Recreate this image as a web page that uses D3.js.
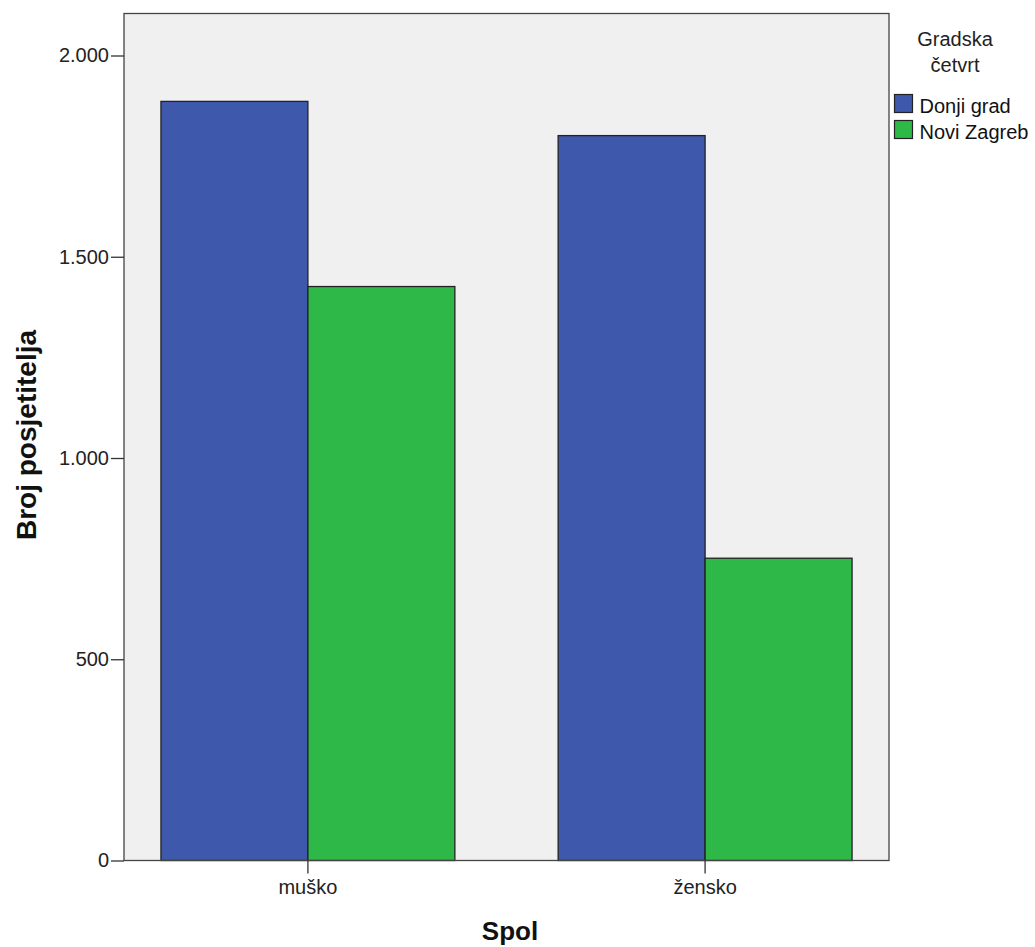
<!DOCTYPE html>
<html>
<head>
<meta charset="utf-8">
<script src="https://cdn.jsdelivr.net/npm/d3@7"></script>
<style>
  body { margin: 0; background: #fff; }
  text { font-family: Arial, "Liberation Sans", sans-serif; }
</style>
</head>
<body>
<script>
// data
var categories = ["muško", "žensko"];
var seriesNames = ["Donji grad", "Novi Zagreb"];
var donjiGrad = [1886, 1801];
var noviZagreb = [1426, 751];
var yTicks = [0, 500, 1000, 1500, 2000];
var colors = ["#3E58AC", "#2EB848"];

var svg = d3.select("body").append("svg")
    .attr("width", 1035)
    .attr("height", 947);

// plot frame (not called "top": that name belongs to window)
var pLeft = 124, pRight = 889, pTop = 13.5, pBottom = 860.5;

var y = d3.scaleLinear().domain([0, 2000]).range([pBottom, 55.5]);
var x = d3.scaleBand().domain(categories).range([pLeft, pRight]).paddingInner(0.26).paddingOuter(0.093);
var xs = d3.scaleBand().domain(seriesNames).range([0, x.bandwidth()]);

// grey background of the plot
svg.append("rect")
    .attr("x", pLeft).attr("y", pTop)
    .attr("width", pRight - pLeft).attr("height", pBottom - pTop)
    .attr("fill", "#F0F0F0");

// bars
var rows = categories.map(function(c, i){ return {cat: c, vals: [donjiGrad[i], noviZagreb[i]]}; });
var groups = svg.selectAll(".grp").data(rows).enter()
    .append("g")
    .attr("transform", function(d){ return "translate(" + x(d.cat) + ",0)"; });

groups.selectAll("rect").data(function(d){
        return d.vals.map(function(v, j){ return {name: seriesNames[j], v: v, j: j}; });
    }).enter()
    .append("rect")
    .attr("x", function(d){ return xs(d.name); })
    .attr("y", function(d){ return y(d.v); })
    .attr("width", xs.bandwidth())
    .attr("height", function(d){ return y(0) - y(d.v); })
    .attr("fill", function(d){ return colors[d.j]; })
    .attr("stroke", "#222")
    .attr("stroke-width", 1.3);

// frame border
svg.append("rect")
    .attr("x", pLeft).attr("y", pTop)
    .attr("width", pRight - pLeft).attr("height", pBottom - pTop)
    .attr("fill", "none")
    .attr("stroke", "#444")
    .attr("stroke-width", 1.3);

// y axis
var yAxis = d3.axisLeft(y).tickValues(yTicks).tickSize(13).tickSizeOuter(0).tickPadding(2)
    .tickFormat(function(d){ return d3.format(",")(d).replace(/,/g, "."); });
var gy = svg.append("g").attr("transform", "translate(" + pLeft + ",0)").call(yAxis);
gy.select(".domain").remove();
gy.selectAll(".tick line").attr("stroke", "#333").attr("stroke-width", 1.3);
gy.selectAll(".tick text").attr("font-size", 20).attr("fill", "#222")
    .style("font-family", "Arial, 'Liberation Sans', sans-serif");

// x axis
var xAxis = d3.axisBottom(x).tickSize(13).tickSizeOuter(0).tickPadding(6);
var gx = svg.append("g").attr("transform", "translate(0," + pBottom + ")").call(xAxis);
gx.select(".domain").remove();
gx.selectAll(".tick line").attr("stroke", "#333").attr("stroke-width", 1.3);
gx.selectAll(".tick text").attr("font-size", 20).attr("fill", "#222")
    .style("font-family", "Arial, 'Liberation Sans', sans-serif");

// axis titles
svg.append("text")
    .text("Spol")
    .attr("x", 510).attr("y", 940)
    .attr("text-anchor", "middle")
    .attr("font-size", 26).attr("font-weight", "bold").attr("fill", "#111");

svg.append("text")
    .text("Broj posjetitelja")
    .attr("transform", "translate(36," + ((pTop + pBottom) / 2 - 2) + ") rotate(-90)")
    .attr("text-anchor", "middle")
    .attr("font-size", 28).attr("font-weight", "bold").attr("fill", "#111");

// legend
var legend = svg.append("g");
legend.append("text").text("Gradska")
    .attr("x", 955).attr("y", 46).attr("text-anchor", "middle")
    .attr("font-size", 20).attr("fill", "#222");
legend.append("text").text("četvrt")
    .attr("x", 955).attr("y", 72).attr("text-anchor", "middle")
    .attr("font-size", 20).attr("fill", "#222");

var items = legend.selectAll(".item").data(seriesNames).enter()
    .append("g")
    .attr("transform", function(d, i){ return "translate(894.5," + (94.5 + i * 26) + ")"; });
items.append("rect")
    .attr("width", 18).attr("height", 18)
    .attr("fill", function(d, i){ return colors[i]; })
    .attr("stroke", "#222").attr("stroke-width", 1.2);
items.append("text").text(function(d){ return d; })
    .attr("x", 25).attr("y", 18)
    .attr("font-size", 20).attr("fill", "#111");
</script>
</body>
</html>
